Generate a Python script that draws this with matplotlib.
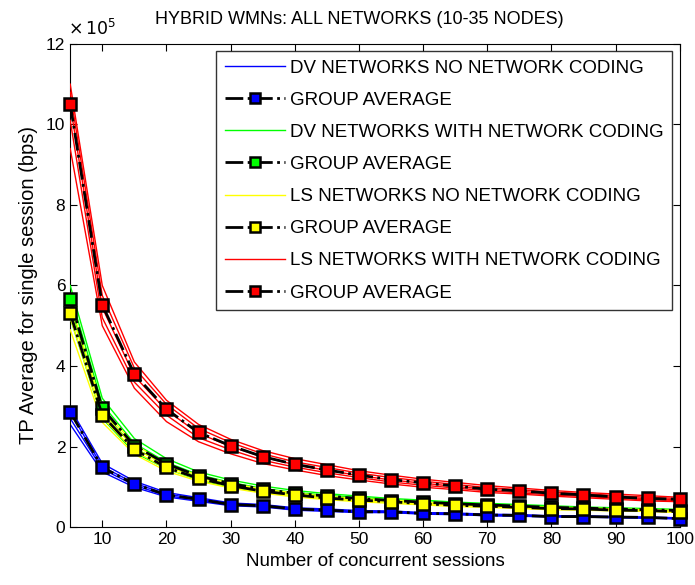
import numpy as np
import matplotlib
matplotlib.use("Agg")
import matplotlib.pyplot as plt

plt.rcParams['font.family'] = ['Liberation Sans', 'DejaVu Sans']

# sessions
x = [5, 10, 15, 20, 25, 30, 35, 40, 45, 50, 55, 60, 65, 70, 75, 80, 85, 90, 95, 100]

# throughput in units of 1e5 bps
# DV, no network coding
dv_no = [
    [2.95, 1.58, 1.14, 0.86, 0.73, 0.60, 0.56, 0.48, 0.45, 0.41, 0.40, 0.36, 0.35, 0.32, 0.31, 0.28, 0.28, 0.26, 0.25, 0.23],
    [2.85, 1.50, 1.09, 0.82, 0.70, 0.57, 0.54, 0.46, 0.43, 0.39, 0.38, 0.35, 0.34, 0.31, 0.30, 0.27, 0.27, 0.25, 0.24, 0.22],
    [2.70, 1.44, 1.04, 0.78, 0.67, 0.55, 0.52, 0.44, 0.41, 0.37, 0.37, 0.33, 0.32, 0.29, 0.28, 0.26, 0.26, 0.24, 0.23, 0.21],
    [2.55, 1.37, 0.99, 0.75, 0.64, 0.53, 0.50, 0.42, 0.39, 0.36, 0.36, 0.32, 0.31, 0.28, 0.27, 0.25, 0.25, 0.23, 0.22, 0.20],
]
dv_no_avg = [2.86, 1.48, 1.07, 0.80, 0.69, 0.56, 0.53, 0.45, 0.42, 0.38, 0.38, 0.34, 0.33, 0.30, 0.29, 0.26, 0.26, 0.25, 0.24, 0.21]

# DV, with network coding
dv_nc = [
    [6.00, 3.20, 2.20, 1.70, 1.37, 1.17, 1.02, 0.91, 0.83, 0.77, 0.71, 0.67, 0.62, 0.59, 0.56, 0.53, 0.50, 0.48, 0.46, 0.44],
    [5.80, 3.05, 2.08, 1.61, 1.30, 1.11, 0.96, 0.86, 0.79, 0.73, 0.68, 0.63, 0.59, 0.56, 0.53, 0.50, 0.48, 0.46, 0.44, 0.42],
    [5.50, 2.88, 1.97, 1.53, 1.24, 1.05, 0.91, 0.82, 0.75, 0.69, 0.64, 0.60, 0.56, 0.53, 0.51, 0.48, 0.46, 0.44, 0.42, 0.40],
    [5.20, 2.70, 1.85, 1.45, 1.17, 0.99, 0.87, 0.78, 0.71, 0.66, 0.61, 0.57, 0.54, 0.51, 0.48, 0.46, 0.44, 0.42, 0.40, 0.38],
]
dv_nc_avg = [5.66, 2.95, 2.02, 1.57, 1.27, 1.08, 0.94, 0.84, 0.77, 0.71, 0.66, 0.62, 0.58, 0.55, 0.52, 0.49, 0.47, 0.45, 0.43, 0.41]

# LS, no network coding
ls_no = [
    [5.60, 2.95, 2.05, 1.57, 1.28, 1.09, 0.94, 0.85, 0.76, 0.71, 0.67, 0.62, 0.57, 0.55, 0.52, 0.49, 0.48, 0.45, 0.43, 0.41],
    [5.40, 2.85, 1.97, 1.51, 1.23, 1.05, 0.91, 0.82, 0.73, 0.68, 0.64, 0.59, 0.55, 0.53, 0.50, 0.47, 0.46, 0.43, 0.42, 0.39],
    [5.20, 2.72, 1.89, 1.45, 1.19, 1.01, 0.87, 0.78, 0.70, 0.66, 0.62, 0.57, 0.53, 0.51, 0.48, 0.45, 0.44, 0.41, 0.40, 0.37],
    [4.90, 2.60, 1.81, 1.39, 1.14, 0.97, 0.84, 0.75, 0.68, 0.63, 0.59, 0.55, 0.51, 0.49, 0.46, 0.43, 0.42, 0.40, 0.39, 0.36],
]
ls_no_avg = [5.31, 2.78, 1.93, 1.48, 1.21, 1.03, 0.89, 0.80, 0.72, 0.67, 0.63, 0.58, 0.54, 0.52, 0.49, 0.46, 0.45, 0.42, 0.41, 0.38]

# LS, with network coding
ls_nc = [
    [11.0, 6.00, 4.10, 3.15, 2.55, 2.18, 1.90, 1.70, 1.55, 1.40, 1.29, 1.19, 1.11, 1.03, 0.97, 0.91, 0.86, 0.82, 0.78, 0.74],
    [10.8, 5.75, 3.95, 3.05, 2.45, 2.10, 1.82, 1.62, 1.48, 1.34, 1.23, 1.14, 1.06, 0.98, 0.93, 0.87, 0.83, 0.78, 0.74, 0.71],
    [10.5, 5.45, 3.75, 2.90, 2.33, 2.00, 1.74, 1.55, 1.41, 1.28, 1.17, 1.09, 1.01, 0.94, 0.89, 0.83, 0.79, 0.74, 0.71, 0.68],
    [10.1, 5.20, 3.60, 2.78, 2.22, 1.92, 1.66, 1.49, 1.35, 1.23, 1.12, 1.04, 0.97, 0.90, 0.85, 0.80, 0.76, 0.72, 0.68, 0.66],
    [9.40, 5.00, 3.45, 2.62, 2.12, 1.82, 1.58, 1.42, 1.28, 1.17, 1.07, 0.99, 0.93, 0.86, 0.82, 0.77, 0.73, 0.69, 0.65, 0.63],
]
ls_nc_avg = [10.51, 5.52, 3.80, 2.93, 2.35, 2.02, 1.75, 1.56, 1.42, 1.29, 1.18, 1.10, 1.02, 0.94, 0.90, 0.84, 0.80, 0.75, 0.71, 0.69]

groups = [
    ("DV NETWORKS NO NETWORK CODING", dv_no, dv_no_avg, "#0000ff"),
    ("DV NETWORKS WITH NETWORK CODING", dv_nc, dv_nc_avg, "#00ff00"),
    ("LS NETWORKS NO NETWORK CODING", ls_no, ls_no_avg, "#ffff00"),
    ("LS NETWORKS WITH NETWORK CODING", ls_nc, ls_nc_avg, "#ff0000"),
]

fig = plt.figure(figsize=(6.95, 5.85), dpi=100)
ax = fig.add_axes([0.101, 0.099, 0.877, 0.826])

for i, (name, nets, avg, col) in enumerate(groups):
    for j, net in enumerate(nets):
        ax.plot(x, net, color=col, lw=1.0, zorder=2 + i,
                label=name if j == 0 else None)
    ax.plot(x, avg, color='k', ls='-.', lw=2, marker='s', ms=8,
            mfc=col, mec='k', mew=1.8, zorder=10 + i, clip_on=False,
            label="GROUP AVERAGE")

ax.set_xlim(5, 100)
ax.set_ylim(0, 12)
ax.set_xticks(range(10, 101, 10))
ax.set_yticks(range(0, 13, 2))
ax.tick_params(direction='in', top=True, right=True, labelsize=12.5, length=5)
ax.set_xlabel("Number of concurrent sessions", fontsize=13.5, labelpad=4)
ax.set_ylabel("TP Average for single session (bps)", fontsize=14.5, labelpad=6)
ax.set_title("HYBRID WMNs: ALL NETWORKS (10-35 NODES)", fontsize=13, pad=14, x=0.474)
ax.text(-0.003, 1.012, r"$\times\,10^5$", transform=ax.transAxes, fontsize=12.5,
        ha='left', va='bottom')

leg = ax.legend(loc='upper right', bbox_to_anchor=(0.988, 0.985), fontsize=13.5,
                handlelength=3.2, handletextpad=0.3, labelspacing=0.8,
                frameon=True, fancybox=False, borderpad=0.45, borderaxespad=0,
                markerscale=0.85)
leg.get_frame().set_edgecolor('k')
leg.get_frame().set_linewidth(1.0)
leg.set_zorder(30)

fig.savefig("out.png", dpi=100)
